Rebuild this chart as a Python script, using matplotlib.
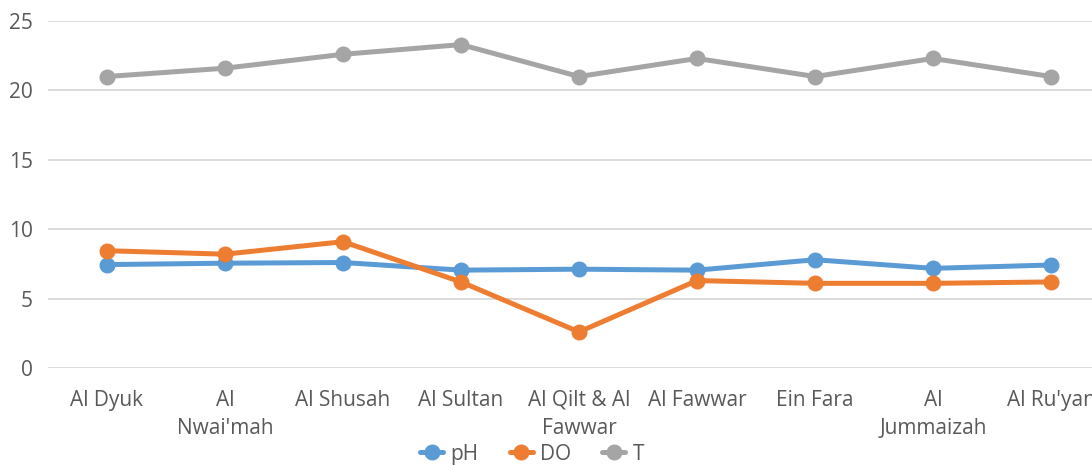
import matplotlib
matplotlib.use("Agg")
import matplotlib.pyplot as plt

categories = ["Al Dyuk", "Al\nNwai'mah", "Al Shusah", "Al Sultan", "Al Qilt & Al\nFawwar",
              "Al Fawwar", "Ein Fara", "Al\nJummaizah", "Al Ru'yan"]
ph = [7.45, 7.55, 7.6, 7.05, 7.12, 7.05, 7.8, 7.18, 7.42]
do = [8.45, 8.2, 9.1, 6.2, 2.6, 6.3, 6.1, 6.1, 6.2]
temp = [21.0, 21.6, 22.6, 23.3, 21.0, 22.3, 21.0, 22.3, 21.0]
yticks = [0, 5, 10, 15, 20, 25]

plt.rcParams['font.family'] = ['Open Sans', 'DejaVu Sans']

fig = plt.figure(figsize=(10.92, 4.65), dpi=100)
W, H = 1092, 465
left, right, top, bottom = 48, 1110, 21, 368
ax = fig.add_axes([left / W, 1 - bottom / H, (right - left) / W, (bottom - top) / H])

x = list(range(len(categories)))
series = [("pH", ph, "#5B9BD5"), ("DO", do, "#ED7D31"), ("T", temp, "#A5A5A5")]
for name, vals, c in series:
    ax.plot(x, vals, color=c, lw=3.6, marker="o", ms=10.5, label=name, solid_capstyle="round")

ax.set_xlim(-0.5, len(categories) - 0.5)
ax.set_ylim(0, 25)
ax.set_yticks(yticks)
ax.set_yticklabels([str(v) for v in yticks])
ax.set_xticks(x)
ax.set_xticklabels(categories, linespacing=1.45)
ax.grid(axis="y", color="#D9D9D9", lw=1.3)
ax.set_axisbelow(True)
for s in ax.spines.values():
    s.set_visible(False)
ax.tick_params(axis="both", length=0, colors="#595959", labelsize=15)
ax.tick_params(axis="y", pad=11)
ax.tick_params(axis="x", pad=15.5)

leg = fig.legend(loc="center", bbox_to_anchor=(532 / W, 1 - 454 / H), ncol=3, frameon=False,
                 fontsize=15, handlelength=1.1, columnspacing=1.5, handletextpad=0.35,
                 labelcolor="#595959", borderpad=0)
fig.savefig("out.png", dpi=100)
